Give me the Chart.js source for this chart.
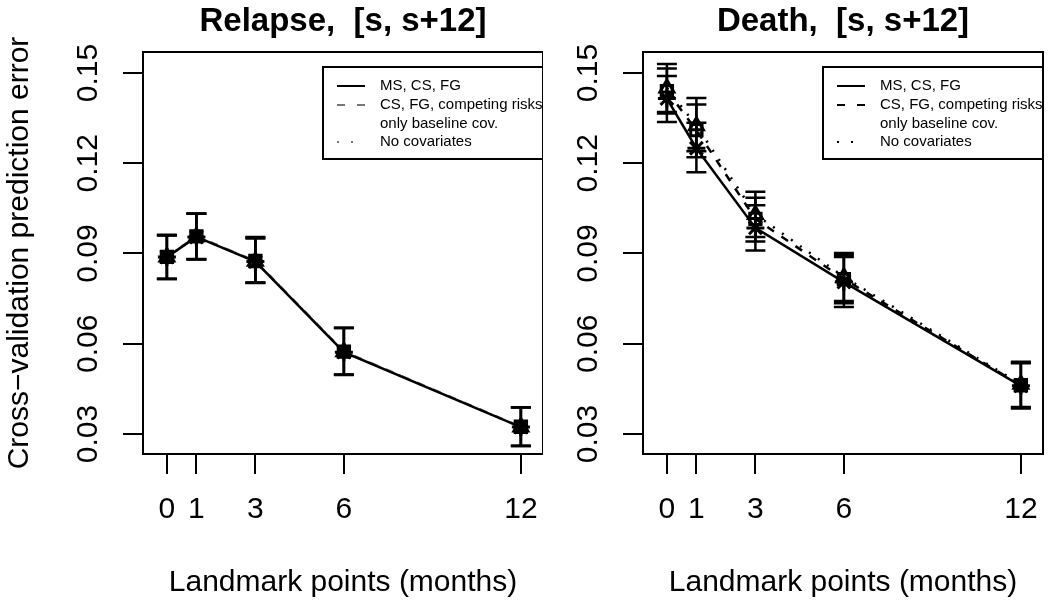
<!DOCTYPE html>
<html>
<head>
<meta charset="utf-8">
<script src="https://cdn.jsdelivr.net/npm/chart.js@4/dist/chart.umd.min.js"></script>
<style>
  body { margin: 0; background: #fff; }
  #wrap { position: relative; width: 1050px; height: 604px; }
  canvas { position: absolute; top: 0; }
</style>
</head>
<body>
<div id="wrap">
  <canvas id="relapse" width="543" height="604" style="left:0"></canvas>
  <canvas id="death" width="507" height="604" style="left:543px"></canvas>
</div>
<script>
// Landmark points and axis ticks
const months = [0, 1, 3, 6, 12];
const yTicks = [0.03, 0.06, 0.09, 0.12, 0.15];
const yTickLabels = ['0.03', '0.06', '0.09', '0.12', '0.15'];
const seriesLabels = ['MS, CS, FG', 'CS, FG, competing risks\nonly baseline cov.', 'No covariates'];

// Relapse panel
const relapseFull = [0.0888, 0.0955, 0.0873, 0.0572, 0.0323];
const relapseFullLo = [0.0815, 0.0880, 0.0802, 0.0496, 0.0260];
const relapseFullHi = [0.0960, 0.1032, 0.0950, 0.0652, 0.0389];
const relapseBase = [0.0889, 0.0957, 0.0875, 0.0574, 0.0324];
const relapseBaseLo = [0.0816, 0.0882, 0.0804, 0.0498, 0.0261];
const relapseBaseHi = [0.0962, 0.1033, 0.0955, 0.0653, 0.0389];
const relapseNone = [0.0888, 0.0956, 0.0874, 0.0573, 0.0323];
const relapseNoneLo = [0.0815, 0.0881, 0.0803, 0.0497, 0.0260];
const relapseNoneHi = [0.0961, 0.1032, 0.0953, 0.0652, 0.0388];

// Death panel
const deathFull = [0.1415, 0.1250, 0.0985, 0.0805, 0.0460];
const deathFullLo = [0.1337, 0.1170, 0.0910, 0.0722, 0.0385];
const deathFullHi = [0.1490, 0.1335, 0.1060, 0.0888, 0.0535];
const deathBase = [0.1440, 0.1310, 0.1015, 0.0815, 0.0462];
const deathBaseLo = [0.1365, 0.1220, 0.0940, 0.0735, 0.0387];
const deathBaseHi = [0.1515, 0.1395, 0.1085, 0.0895, 0.0537];
const deathNone = [0.1450, 0.1325, 0.1030, 0.0822, 0.0465];
const deathNoneLo = [0.1370, 0.1240, 0.0955, 0.0742, 0.0390];
const deathNoneHi = [0.1530, 0.1417, 0.1105, 0.0902, 0.0540];

const FONT = "'Liberation Sans', Arial, Helvetica, sans-serif";
Chart.defaults.font.family = FONT;
Chart.defaults.color = '#000';

const lineDash = [[], [8, 9], [2, 9]];
const legendDash = [[], [8, 12], [2, 12]];
const markers = ['star', 'rect', 'triangle'];
const markerSize = [9, 8, 8];

// error bars, R-style legend and the plot frame
const extras = {
    id: 'extras',
    afterDatasetsDraw(chart) {
        const { ctx, chartArea: a } = chart;
        const xs = chart.scales.x, ys = chart.scales.y;
        ctx.save();

        // error bars
        ctx.strokeStyle = '#000';
        ctx.lineWidth = 2.5;
        chart.data.datasets.forEach(ds => {
            months.forEach((m, j) => {
                const x = xs.getPixelForValue(m);
                const y1 = ys.getPixelForValue(ds.errLo[j]);
                const y2 = ys.getPixelForValue(ds.errHi[j]);
                ctx.beginPath();
                ctx.moveTo(x, y1); ctx.lineTo(x, y2);
                ctx.moveTo(x - 10, y1); ctx.lineTo(x + 10, y1);
                ctx.moveTo(x - 10, y2); ctx.lineTo(x + 10, y2);
                ctx.stroke();
            });
        });

        // y tick labels, rotated like R's
        ctx.font = '30px ' + FONT;
        ctx.fillStyle = '#000';
        ctx.textAlign = 'center';
        ctx.textBaseline = 'middle';
        yTicks.forEach((v, i) => {
            ctx.save();
            ctx.translate(a.left - 54, ys.getPixelForValue(v));
            ctx.rotate(-Math.PI / 2);
            ctx.fillText(yTickLabels[i], 0, 0);
            ctx.restore();
        });

        // legend (clipped by the plot region)
        ctx.save();
        ctx.beginPath();
        ctx.rect(a.left, a.top, a.right - a.left, a.bottom - a.top);
        ctx.clip();
        const L = a.left + 180, T = a.top + 15;
        ctx.fillStyle = '#fff';
        ctx.fillRect(L, T, a.right - L + 20, 92);
        ctx.strokeStyle = '#000';
        ctx.lineWidth = 2;
        ctx.strokeRect(L, T, a.right - L + 20, 92);
        ctx.font = '15px ' + FONT;
        ctx.textAlign = 'left';
        ctx.textBaseline = 'middle';
        const rows = [19, 38, 75];
        chart.data.datasets.forEach((ds, i) => {
            const y = T + rows[i];
            ctx.strokeStyle = ds.borderColor;
            ctx.lineWidth = 2;
            ctx.setLineDash(legendDash[i]);
            ctx.beginPath();
            ctx.moveTo(L + 14, y); ctx.lineTo(L + 42, y);
            ctx.stroke();
            ctx.setLineDash([]);
            ctx.fillStyle = '#000';
            ds.label.split('\n').forEach((t, k) => ctx.fillText(t, L + 57, y + k * 18.5));
        });
        ctx.restore();

        // frame
        ctx.strokeStyle = '#000';
        ctx.lineWidth = 2;
        ctx.strokeRect(a.left, a.top, a.right - a.left, a.bottom - a.top);
        ctx.restore();
    }
};

function buildChart(id, title, series, altColor, yWidth, yTitle, rightPad) {
    const datasets = series.map((s, i) => ({
        label: seriesLabels[i],
        data: months.map((m, j) => ({ x: m, y: s[0][j] })),
        errLo: s[1],
        errHi: s[2],
        borderColor: i === 0 ? '#000' : altColor,
        borderWidth: 2.5,
        borderDash: lineDash[i],
        pointStyle: markers[i],
        pointRadius: markerSize[i],
        pointBorderWidth: 3,
        pointBorderColor: '#000',
        pointBackgroundColor: 'rgba(0,0,0,0)',
        tension: 0,
        fill: false
    }));

    const tickGrid = { drawOnChartArea: false, drawTicks: true, tickLength: 20, color: '#000', lineWidth: 2 };

    return new Chart(document.getElementById(id), {
        type: 'line',
        data: { datasets },
        plugins: [extras],
        options: {
            responsive: false,
            animation: false,
            layout: { autoPadding: false, padding: { left: 0, right: rightPad, top: 0, bottom: 0 } },
            plugins: {
                legend: { display: false },
                tooltip: { enabled: false },
                title: {
                    display: true,
                    text: title,
                    fullSize: false,
                    font: { size: 33, weight: 'bold' },
                    color: '#000',
                    padding: { top: 2, bottom: 10.4 }
                }
            },
            scales: {
                x: {
                    type: 'linear',
                    min: -0.81,
                    max: 12.75,
                    afterBuildTicks: s => { s.ticks = months.map(v => ({ value: v })); },
                    afterFit: s => { s.height = 150; s.paddingLeft = 0; s.paddingRight = 0; },
                    ticks: { font: { size: 30 }, color: '#000', padding: 18, autoSkip: false, maxRotation: 0, callback: v => String(v) },
                    grid: tickGrid,
                    border: { display: true, color: '#000', width: 2 },
                    title: { display: true, text: 'Landmark points (months)', font: { size: 30 }, color: '#000', padding: { top: 0, bottom: 3 } }
                },
                y: {
                    type: 'linear',
                    min: 0.02335,
                    max: 0.15698,
                    afterBuildTicks: s => { s.ticks = yTicks.map(v => ({ value: v })); },
                    afterFit: s => { s.width = yWidth; s.paddingTop = 0; s.paddingBottom = 0; },
                    ticks: { display: false },
                    grid: tickGrid,
                    border: { display: true, color: '#000', width: 2 },
                    title: { display: yTitle, text: 'Cross\u2212validation prediction error', font: { size: 30 }, color: '#000', padding: { top: 2, bottom: 0 } }
                }
            }
        }
    });
}

buildChart('relapse', 'Relapse,  [s, s+12]', [
    [relapseFull, relapseFullLo, relapseFullHi],
    [relapseBase, relapseBaseLo, relapseBaseHi],
    [relapseNone, relapseNoneLo, relapseNoneHi]
], '#777', 143, true, 0);

buildChart('death', 'Death,  [s, s+12]', [
    [deathFull, deathFullLo, deathFullHi],
    [deathBase, deathBaseLo, deathBaseHi],
    [deathNone, deathNoneLo, deathNoneHi]
], '#000', 100, false, 7);
</script>
</body>
</html>
